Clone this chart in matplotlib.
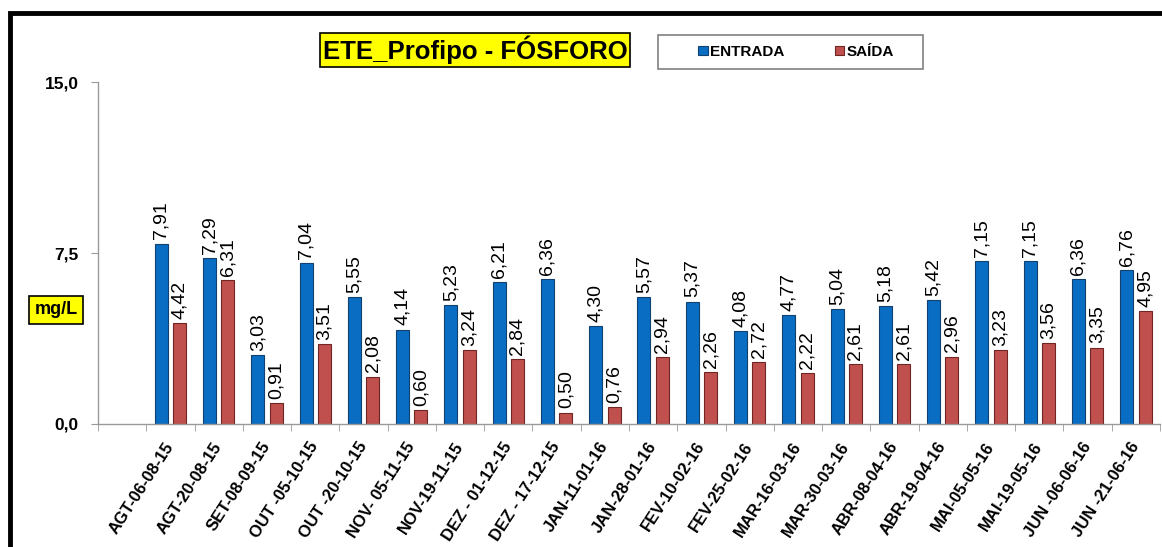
import matplotlib
matplotlib.use("Agg")
import matplotlib.pyplot as plt
from matplotlib.patches import Rectangle
from matplotlib.ticker import FixedLocator, FuncFormatter

plt.rcParams["font.family"] = ["Liberation Sans", "DejaVu Sans"]

DATES = [
    "AGT-06-08-15", "AGT-20-08-15", "SET-08-09-15", "OUT -05-10-15", "OUT -20-10-15",
    "NOV- 05-11-15", "NOV-19-11-15", "DEZ - 01-12-15", "DEZ - 17-12-15", "JAN-11-01-16",
    "JAN-28-01-16", "FEV-10-02-16", "FEV-25-02-16", "MAR-16-03-16", "MAR-30-03-16",
    "ABR-08-04-16", "ABR-19-04-16", "MAI-05-05-16", "MAI-19-05-16", "JUN -06-06-16",
    "JUN -21-06-16",
]
ENTRADA = [7.91, 7.29, 3.03, 7.04, 5.55, 4.14, 5.23, 6.21, 6.36, 4.30, 5.57,
           5.37, 4.08, 4.77, 5.04, 5.18, 5.42, 7.15, 7.15, 6.36, 6.76]
SAIDA = [4.42, 6.31, 0.91, 3.51, 2.08, 0.60, 3.24, 2.84, 0.50, 0.76, 2.94,
         2.26, 2.72, 2.22, 2.61, 2.61, 2.96, 3.23, 3.56, 3.35, 4.95]
Y_TICKS = [0.0, 7.5, 15.0]

W, H = 1162, 547
fig = plt.figure(figsize=(W / 100, H / 100), dpi=100)
ax = fig.add_axes([98 / W, 123 / H, 1062 / W, 342 / H])

# first slot of the category axis is left empty, as in the original sheet
xs = [i + 1 for i in range(len(DATES))]
bw = 0.27
off = 0.19
b1 = ax.bar([x - off for x in xs], ENTRADA, bw, color="#0a6dc4", edgecolor="#12416e", linewidth=0.8, label="ENTRADA")
b2 = ax.bar([x + off for x in xs], SAIDA, bw, color="#c0504d", edgecolor="#6e2523", linewidth=0.8, label="SAÍDA")

for x, v in zip(xs, ENTRADA):
    ax.annotate(f"{v:.2f}".replace(".", ","), (x - off, v), xytext=(0, 3), textcoords="offset points",
                rotation=90, ha="center", va="bottom", fontsize=14)
for x, v in zip(xs, SAIDA):
    ax.annotate(f"{v:.2f}".replace(".", ","), (x + off, v), xytext=(0, 3), textcoords="offset points",
                rotation=90, ha="center", va="bottom", fontsize=14)

ax.set_xlim(-0.5, len(DATES) + 0.5)
ax.set_ylim(0, 15)
ax.set_yticks(Y_TICKS)
ax.yaxis.set_major_formatter(FuncFormatter(lambda v, p: f"{v:.1f}".replace(".", ",")))
ax.set_xticks(xs)
ax.set_xticklabels(DATES, rotation=57, ha="right", va="center", rotation_mode="anchor",
                   fontsize=12, fontweight="bold")
ax.xaxis.set_minor_locator(FixedLocator([i - 0.5 for i in range(len(DATES) + 2)]))
ax.tick_params(axis="x", which="major", length=0, pad=14)
ax.tick_params(axis="x", which="minor", length=5, color="#999999", direction="out")
ax.tick_params(axis="y", length=5, color="#999999", direction="out", labelsize=12.5, pad=9)
for lab in ax.get_yticklabels():
    lab.set_fontweight("bold")

for side in ("top", "right"):
    ax.spines[side].set_visible(False)
for side in ("left", "bottom"):
    ax.spines[side].set_color("#999999")
    ax.spines[side].set_linewidth(1.0)

# title and unit boxes
fig.text(475 / W, 1 - 50 / H, "ETE_Profipo - FÓSFORO", ha="center", va="center", fontsize=18.5,
         fontweight="bold", bbox=dict(boxstyle="square,pad=0.1", facecolor="#ffff00", edgecolor="black", linewidth=1.2))
fig.text(56 / W, 1 - 310 / H, "mg/L", ha="center", va="center", fontsize=13,
         fontweight="bold", bbox=dict(boxstyle="square,pad=0.3", facecolor="#ffff00", edgecolor="black", linewidth=1.2))

# legend box drawn separately so its size can follow the sheet
fig.patches.append(Rectangle((658 / W, 1 - 69 / H), 265 / W, 34 / H, transform=fig.transFigure,
                             facecolor="white", edgecolor="#808080", linewidth=1.2))
leg = fig.legend(handles=[b1, b2], loc="center", bbox_to_anchor=(796 / W, 1 - 52 / H), ncol=2,
                 fontsize=11, frameon=False,
                 handlelength=0.6, handleheight=0.6, handletextpad=0.15, columnspacing=3.3,
                 borderaxespad=0)
for t in leg.get_texts():
    t.set_fontweight("bold")

# outer frame of the sheet
fig.patches.append(Rectangle((9.5 / W, -0.1), 1.2, 1 - 13 / H + 0.1, transform=fig.transFigure,
                             fill=False, edgecolor="black", linewidth=3.5))

fig.savefig("out.png", dpi=100, facecolor="white")
